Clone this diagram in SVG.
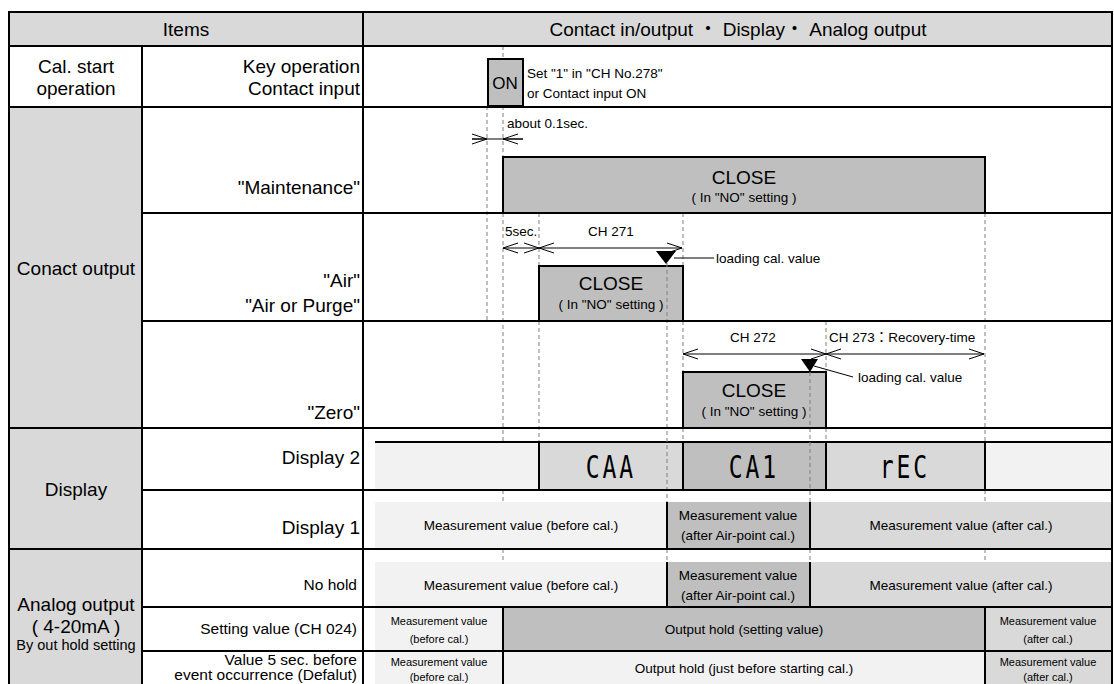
<svg xmlns="http://www.w3.org/2000/svg" width="1114" height="684" viewBox="0 0 1114 684">
<defs>
<style>
text{font-family:"Liberation Sans",Arial,"Noto Sans CJK JP",sans-serif;fill:#000}
.lbl{font-size:19px}
.sub{font-size:15.5px}
.sm{font-size:13.5px}
.xs{font-size:11px}
.seg{font-family:"DejaVu Sans Mono",monospace;font-size:32px;letter-spacing:4px}
.mid{text-anchor:middle}
.end{text-anchor:end}
.grid{stroke:#000;stroke-width:2;fill:none}
.box{stroke:#000;stroke-width:2}
.g1{fill:#f2f2f2}.g2{fill:#d9d9d9}.g3{fill:#bfbfbf}
.dash{stroke:#808080;stroke-width:1;stroke-dasharray:4 3;fill:none}
.arr{stroke:#000;stroke-width:1;fill:none}
.both{marker-start:url(#chev);marker-end:url(#chev)}
.tip{marker-end:url(#chev)}
</style>
<marker id="chev" markerUnits="userSpaceOnUse" viewBox="-1 -1 17 12" markerWidth="17" markerHeight="12" refX="15" refY="5" orient="auto-start-reverse">
<path d="M0,0 L15,5 L0,10" fill="none" stroke="#000" stroke-width="1"/>
</marker>
</defs>

<!-- background fills -->
<rect x="0" y="0" width="1114" height="684" fill="#fff"/>
<rect class="g2" x="9" y="12" width="1103" height="34"/>
<rect class="g2" x="9" y="107" width="133" height="577"/>

<!-- vertical time markers -->
<g id="connectors">
<g id="guides">
<path class="dash" d="M487,106V321"/>
<path class="dash" d="M503,46V59M503,106V157M503,213V443M503,490V502M503,549V562"/>
<path class="dash" d="M539,213V266M539,321V442"/>
<path class="dash" d="M683,213V266M683,321V372M683,428V442"/>
<path class="dash" d="M826,321V372M826,428V442"/>
<path class="dash" d="M985,213V442M985,490V502M985,549V562"/>
</g>
</g>

<!-- timeline bars -->
<g id="on-pulse">
<rect class="box g3" x="488" y="59" width="35" height="47"/>
<text class="mid" x="505" y="89" font-size="17">ON</text>
<text class="sm" x="527" y="78">Set "1" in "CH No.278"</text>
<text class="sm" x="527" y="98">or Contact input ON</text>
</g>
<g id="maintenance-bar">
<rect class="box g3" x="503" y="157" width="482" height="56"/>
<text class="lbl mid" x="744" y="184">CLOSE</text>
<text class="sm mid" x="744" y="202">( In "NO" setting )</text>
</g>
<g id="air-bar">
<rect class="box g3" x="539" y="266" width="144" height="55"/>
<text class="lbl mid" x="611" y="290">CLOSE</text>
<text class="sm mid" x="611" y="309">( In "NO" setting )</text>
</g>
<g id="zero-bar">
<rect class="box g3" x="683" y="372" width="143" height="56"/>
<text class="lbl mid" x="754" y="397">CLOSE</text>
<text class="sm mid" x="754" y="416">( In "NO" setting )</text>
</g>

<!-- display 2 strip -->
<g id="display2">
<rect class="g1" x="375" y="442" width="737" height="48"/>
<line class="grid" x1="375" y1="442" x2="1112" y2="442"/>
<rect class="box g2" x="539" y="442" width="144" height="48"/>
<rect class="box g3" x="683" y="442" width="143" height="48"/>
<rect class="box g2" x="826" y="442" width="159" height="48"/>
<text class="seg mid" transform="translate(611,478) scale(0.72,1)">CAA</text>
<text class="seg mid" transform="translate(754,478) scale(0.72,1)">CA1</text>
<text class="seg mid" transform="translate(905,478) scale(0.72,1)">rEC</text>
</g>

<!-- dashed markers drawn over bars -->
<g id="connectors-over">
<path class="dash" d="M667,263V502M667,549V562"/>
<path class="dash" d="M810,372V502M810,549V562"/>
</g>

<!-- display 1 -->
<g id="display1">
<rect class="g1" x="375" y="502" width="292" height="47"/>
<rect class="g3" x="667" y="502" width="143" height="47"/>
<rect class="g2" x="810" y="502" width="302" height="47"/>
<path class="grid" d="M667,502V549M810,502V549"/>
<text class="sm mid" x="521" y="530">Measurement value (before cal.)</text>
<text class="sm mid" x="738" y="520">Measurement value</text>
<text class="sm mid" x="738" y="540">(after Air-point cal.)</text>
<text class="sm mid" x="961" y="530">Measurement value (after cal.)</text>
</g>

<!-- analog output: no hold -->
<g id="ao-nohold">
<rect class="g1" x="375" y="562" width="292" height="45"/>
<rect class="g3" x="667" y="562" width="143" height="45"/>
<rect class="g2" x="810" y="562" width="302" height="45"/>
<path class="grid" d="M667,562V607M810,562V607"/>
<text class="sm mid" x="521" y="590">Measurement value (before cal.)</text>
<text class="sm mid" x="738" y="580">Measurement value</text>
<text class="sm mid" x="738" y="600">(after Air-point cal.)</text>
<text class="sm mid" x="961" y="590">Measurement value (after cal.)</text>
</g>

<!-- analog output: setting value hold -->
<g id="ao-setting">
<rect class="g1" x="375" y="607" width="128" height="44"/>
<rect class="g3" x="503" y="607" width="482" height="44"/>
<rect class="g2" x="985" y="607" width="127" height="44"/>
<path class="grid" d="M503,607V651M985,607V651"/>
<text class="xs mid" x="439" y="625">Measurement value</text>
<text class="xs mid" x="439" y="643">(before cal.)</text>
<text class="sm mid" x="744" y="634">Output hold (setting value)</text>
<text class="xs mid" x="1048" y="625">Measurement value</text>
<text class="xs mid" x="1048" y="643">(after cal.)</text>
</g>

<!-- analog output: hold value before event -->
<g id="ao-prev">
<rect class="g1" x="375" y="651" width="128" height="33"/>
<rect class="g1" x="503" y="651" width="482" height="33"/>
<rect class="g2" x="985" y="651" width="127" height="33"/>
<path class="grid" d="M503,651V684M985,651V684"/>
<text class="xs mid" x="439" y="666">Measurement value</text>
<text class="xs mid" x="439" y="681">(before cal.)</text>
<text class="sm mid" x="744" y="673">Output hold (just before starting cal.)</text>
<text class="xs mid" x="1048" y="666">Measurement value</text>
<text class="xs mid" x="1048" y="681">(after cal.)</text>
</g>

<!-- timing arrows and leaders -->
<g id="timing">
<line class="arr" x1="472" y1="139" x2="523" y2="139"/>
<line class="arr tip" x1="472" y1="139" x2="487" y2="139"/>
<line class="arr tip" x1="523" y1="139" x2="503" y2="139"/>
<text class="sm" x="507" y="128">about 0.1sec.</text>

<line class="arr both" x1="503" y1="248" x2="539" y2="248"/>
<line class="arr both" x1="539" y1="248" x2="682" y2="248"/>
<text class="sm" x="505" y="236">5sec.</text>
<text class="sm mid" x="611" y="236">CH 271</text>
<polygon points="656,251 676,251 666,264" fill="#000"/>
<line class="arr" x1="674" y1="258" x2="714" y2="258"/>
<text class="sm" x="716" y="263">loading cal. value</text>

<line class="arr both" x1="683" y1="354" x2="826" y2="354"/>
<line class="arr both" x1="826" y1="354" x2="984" y2="354"/>
<text class="sm mid" x="753" y="342">CH 272</text>
<text class="sm" x="829" y="342">CH 273：Recovery-time</text>
<polygon points="801,359 818,359 810,372" fill="#000"/>
<line class="arr" x1="814" y1="366" x2="853" y2="377"/>
<text class="sm" x="858" y="382">loading cal. value</text>
</g>

<!-- table grid -->
<g id="grid">
<rect class="grid" x="9" y="12" width="1103" height="690"/>
<path class="grid" d="M9,46H1112M9,107H1112M142,213H1112M142,321H1112M9,428H1112M142,490H1112M9,549H1112M142,607H1112M142,651H1112"/>
<path class="grid" d="M363,12V684M142,46V684"/>
</g>

<!-- row headings -->
<g id="header">
<text class="lbl mid" x="186" y="36">Items</text>
<text class="lbl mid" x="738" y="36">Contact in/output ・ Display・ Analog output</text>
</g>
<g id="row-cal-start">
<text class="lbl mid" x="76" y="73">Cal. start</text>
<text class="lbl mid" x="76" y="95">operation</text>
<text class="lbl end" x="360" y="73">Key operation</text>
<text class="lbl end" x="360" y="95">Contact input</text>
</g>
<g id="row-contact-output">
<text class="lbl mid" x="76" y="275">Conact output</text>
<text class="lbl end" x="360" y="194">"Maintenance"</text>
<text class="lbl end" x="360" y="287">"Air"</text>
<text class="lbl end" x="360" y="312">"Air or Purge"</text>
<text class="lbl end" x="360" y="419">"Zero"</text>
</g>
<g id="row-display">
<text class="lbl mid" x="76" y="496">Display</text>
<text class="lbl end" x="360" y="464">Display 2</text>
<text class="lbl end" x="360" y="534">Display 1</text>
</g>
<g id="row-analog">
<text class="lbl mid" x="76" y="611">Analog output</text>
<text class="lbl mid" x="76" y="633">( 4-20mA )</text>
<text class="mid" x="76" y="650" font-size="14.5">By out hold setting</text>
<text class="sub end" x="357" y="590">No hold</text>
<text class="sub end" x="357" y="634">Setting value (CH 024)</text>
<text class="sub end" x="357" y="665">Value 5 sec. before</text>
<text class="sub end" x="357" y="680" font-size="15px">event occurrence (Defalut)</text>
</g>
</svg>
